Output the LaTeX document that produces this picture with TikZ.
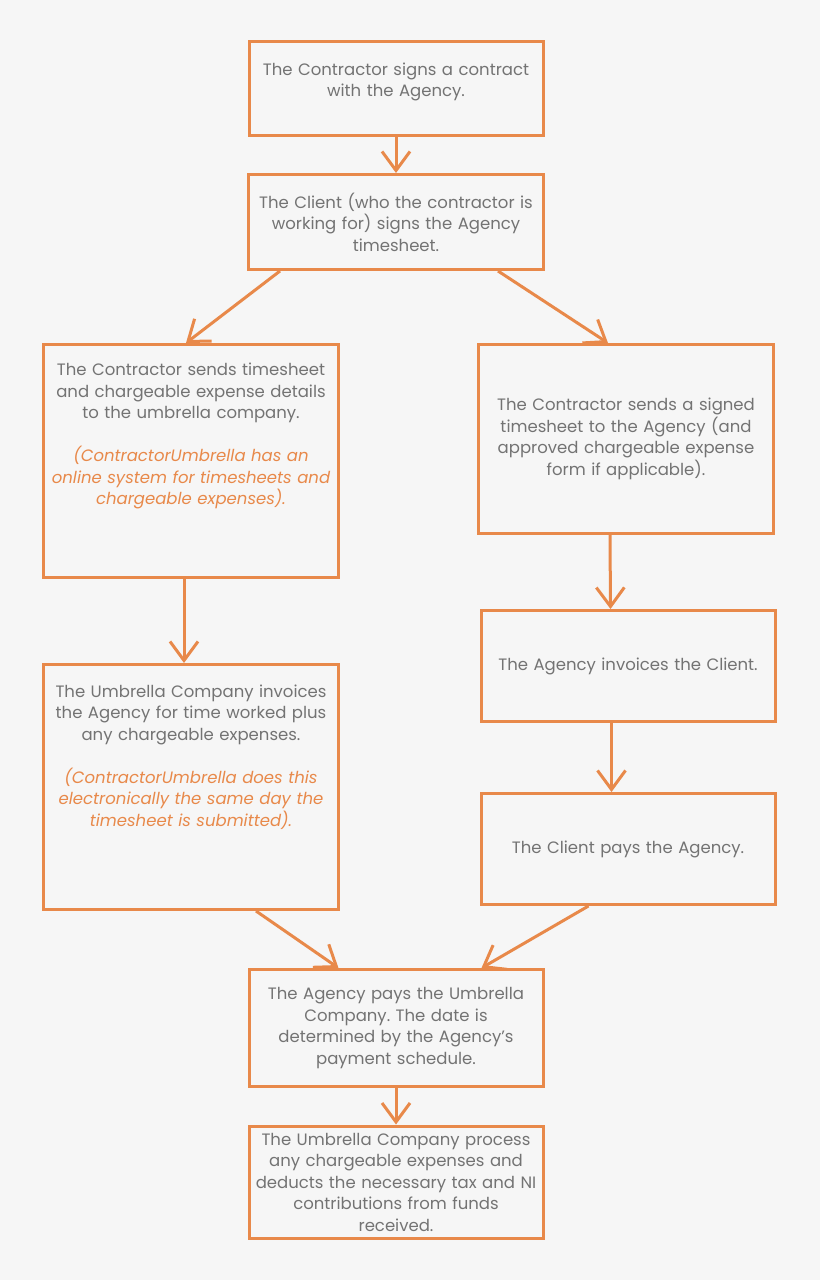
\documentclass[tikz,border=0pt]{standalone}
\usepackage{fontspec}
\setmainfont{Poppins}
\usetikzlibrary{arrows.meta,calc}
\definecolor{flowOrange}{HTML}{E8894A}
\definecolor{flowGrey}{HTML}{737373}
\definecolor{flowBack}{HTML}{F6F6F6}
\frenchspacing

\begin{document}
\begin{tikzpicture}[x=1pt, y=-1pt,
		step box/.style={draw=flowOrange, line width=3pt, inner sep=0pt, text width=294pt, align=center, text=flowGrey,
			font=\fontsize{16.5}{21.5}\selectfont},
		arr/.style={draw=flowOrange, line width=3pt, -{Straight Barb[length=19pt,width=28pt]}}]
			\useasboundingbox[fill=flowBack] (0, 0) rectangle (820, 1280);

			\draw (396, 88) 	node[step box, minimum width=294pt, minimum height=94pt] 	(contract) 	{The Contractor signs a contract\\with the Agency.\par\vspace*{12pt}};
			\draw (396, 222) 	node[step box, minimum width=295pt, minimum height=95pt] 	(signs) 	{The Client (who the contractor is\\working for) signs the Agency\\timesheet.};
			\draw (191, 461) 	node[step box, minimum width=295pt, minimum height=233pt] 	(sendsU) 	{The Contractor sends timesheet\\and chargeable expense details\\to the umbrella company.\par\vspace*{21.5pt}
				\color{flowOrange}\itshape (ContractorUmbrella has an\\online system for timesheets and\\chargeable expenses).\par\vspace*{50pt}};
			\draw (626, 439) 	node[step box, minimum width=295pt, minimum height=189pt] 	(sendsA) 	{The Contractor sends a signed\\timesheet to the Agency (and\\approved chargeable expense\\form if applicable).};
			\draw (628, 666) 	node[step box, minimum width=294pt, minimum height=111pt] 	(invoiceC) 	{The Agency invoices the Client.};
			\draw (191, 787) 	node[step box, minimum width=295pt, minimum height=245pt] 	(invoiceA) 	{The Umbrella Company invoices\\the Agency for time worked plus\\any chargeable expenses.\par\vspace*{21.5pt}
				\color{flowOrange}\itshape (ContractorUmbrella does this\\electronically the same day the\\timesheet is submitted).\par\vspace*{60pt}};
			\draw (628, 849) 	node[step box, minimum width=294pt, minimum height=111pt] 	(pays) 		{The Client pays the Agency.};
			\draw (396, 1028) 	node[step box, minimum width=294pt, minimum height=117pt] 	(paysU) 	{The Agency pays the Umbrella\\Company. The date is\\determined by the Agency’s\\payment schedule.};
			\draw (396, 1182) 	node[step box, minimum width=294pt, minimum height=112pt] 	(process) 	{The Umbrella Company process\\any chargeable expenses and\\deducts the necessary tax and NI\\contributions from funds\\received.};

			\draw[arr] (contract.south) -- (signs.north);
			\draw[arr] ($(signs.south west)+(33,0)$) -- ($(sendsU.north west)+(144,0)$);
			\draw[arr] ($(signs.south west)+(251,0)$) -- ($(sendsA.north west)+(131,0)$);
			\draw[arr] ($(sendsU.south west)+(142,0)$) -- ($(invoiceA.north west)+(142,0)$);
			\draw[arr] ($(sendsA.south west)+(133,0)$) -- ($(invoiceC.north west)+(131,0)$);
			\draw[arr] ($(invoiceC.south west)+(132,0)$) -- ($(pays.north west)+(132,0)$);
			\draw[arr] ($(invoiceA.south west)+(214,0)$) -- ($(paysU.north west)+(91,0)$);
			\draw[arr] ($(pays.south west)+(109,0)$) -- ($(paysU.north west)+(234,0)$);
			\draw[arr] (paysU.south) -- (process.north);
		\end{tikzpicture}
\end{document}
